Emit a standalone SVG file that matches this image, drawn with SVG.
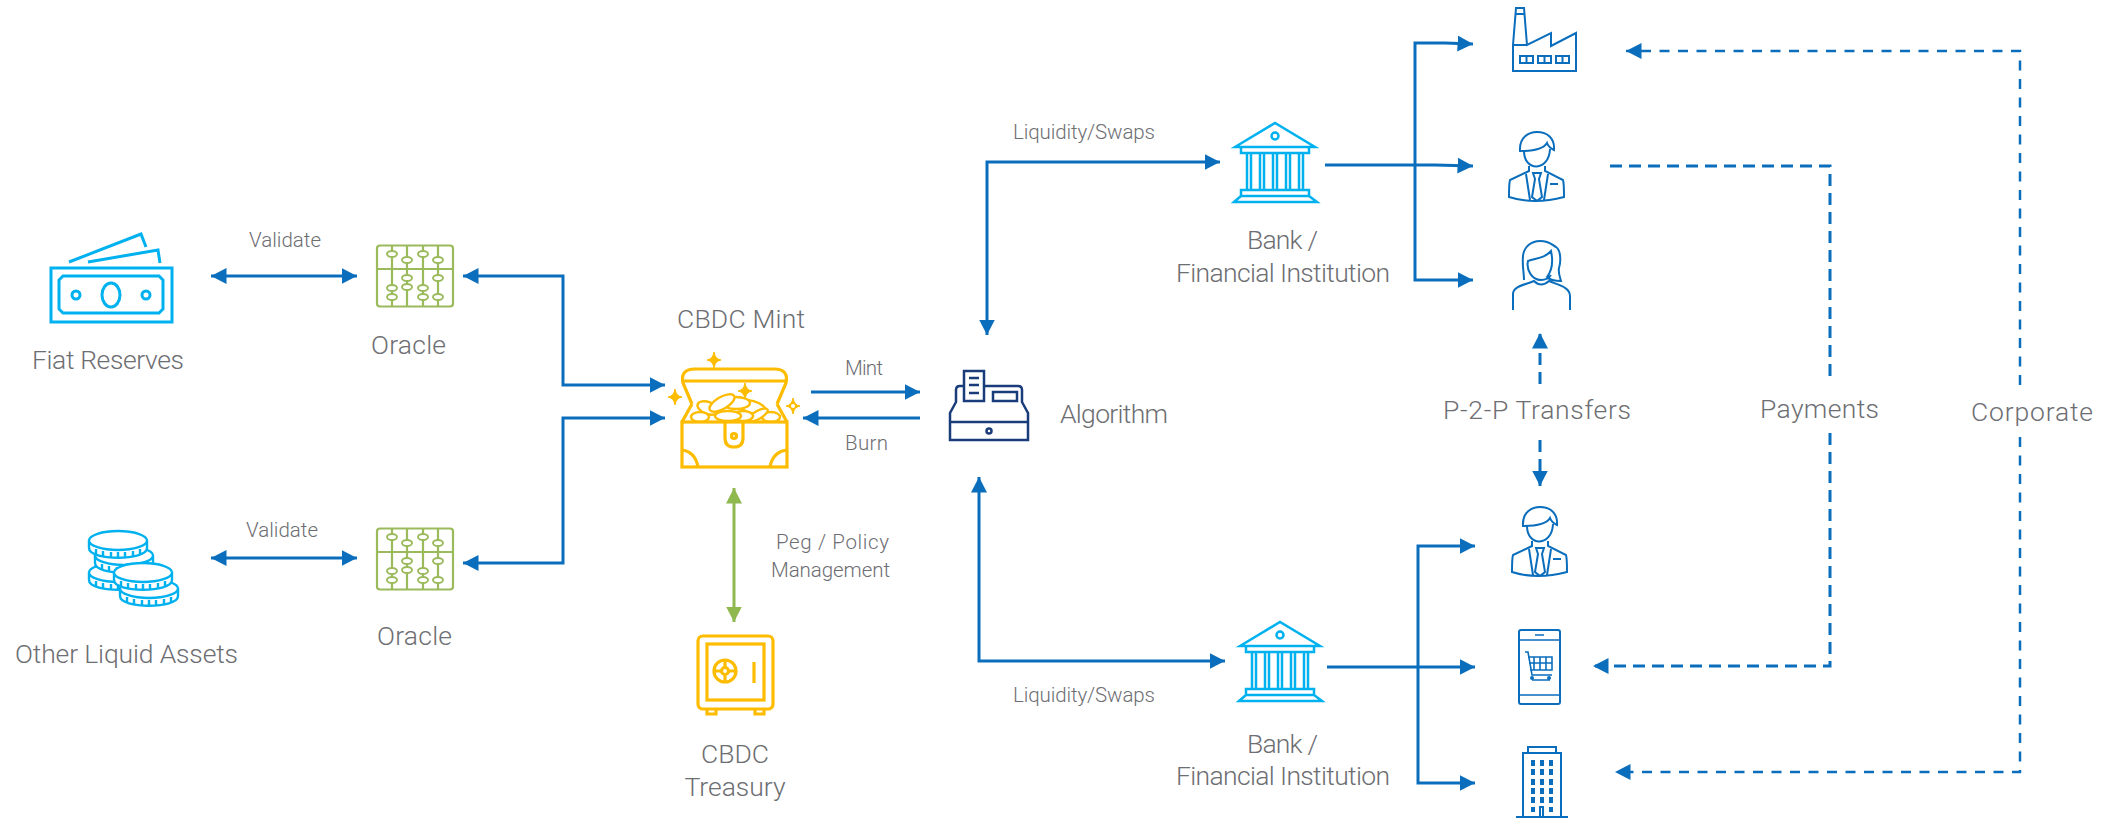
<svg xmlns="http://www.w3.org/2000/svg" width="2113" height="819" viewBox="0 0 2113 819">
<style>
text{font-family:"Roboto","Liberation Sans",sans-serif;font-weight:300;fill:#6d6e72}
.l{font-size:26.500px}.s{font-size:20.500px}
.m{text-anchor:middle}
.c{fill:none;stroke:#0a6ebd;stroke-width:3}
.d{stroke-dasharray:12 7}
.t{stroke-width:2.500;stroke-dasharray:10 8.500}
.gr{fill:none;stroke:#8fb84e;stroke-width:3}
.g{fill:none;stroke:#9aba5c;stroke-width:2.200}
.sky{fill:none;stroke:#00b1f0;stroke-width:3}
.skw{fill:#fff;stroke:#00b1f0;stroke-width:2.400}
.y{fill:none;stroke:#fdbc00;stroke-width:3.200}
.yw{fill:#fff;stroke:#fdbc00;stroke-width:3.200}
.yc{fill:#fff;stroke:#fdbc00;stroke-width:2.400}
.b{fill:none;stroke:#0a6ebd;stroke-width:2}
.n{fill:#fff;stroke:#1b3c7a;stroke-width:2.500}
.bd{fill:#fff;stroke:#9aba5c;stroke-width:1.900}
</style>
<defs>
<marker id="a" markerUnits="userSpaceOnUse" markerWidth="17" markerHeight="17" refX="15.500" refY="8" orient="auto-start-reverse"><path d="M0 0L15.500 8L0 16z" fill="#0a6ebd"/></marker>
<marker id="ag" markerUnits="userSpaceOnUse" markerWidth="17" markerHeight="17" refX="15.500" refY="8" orient="auto-start-reverse"><path d="M0 0L15.500 8L0 16z" fill="#8fb84e"/></marker>
<g id="abacus"><rect class="g" x="1" y="1.500" width="76" height="61" rx="3"/><path class="g" d="M1 25H77M16 2V62M31 2V62M47 2V62M62 2V62"/><ellipse class="bd" cx="16" cy="10" rx="5" ry="3"/><ellipse class="bd" cx="31" cy="16" rx="5" ry="3"/><ellipse class="bd" cx="47" cy="10" rx="5" ry="3"/><ellipse class="bd" cx="62" cy="16" rx="5" ry="3"/><ellipse class="bd" cx="31" cy="34" rx="5" ry="3"/><ellipse class="bd" cx="62" cy="34" rx="5" ry="3"/><ellipse class="bd" cx="16" cy="44" rx="5" ry="3"/><ellipse class="bd" cx="31" cy="43" rx="5" ry="3"/><ellipse class="bd" cx="47" cy="44" rx="5" ry="3"/><ellipse class="bd" cx="16" cy="53" rx="5" ry="3"/><ellipse class="bd" cx="47" cy="53" rx="5" ry="3"/><ellipse class="bd" cx="62" cy="53" rx="5" ry="3"/></g>
<g id="bank"><path class="sky" style="stroke-width:2.500" d="M2 25L42 1L82 25ZM8 25V31H76V25M14 31V68M18 31V68M27 31V68M31 31V68M40 31V68M44 31V68M53 31V68M57 31V68M66 31V68M70 31V68M8 68H76V74H8ZM8 74L1 80H84L76 74"/><circle class="sky" style="stroke-width:2.500" cx="42" cy="14" r="3.500"/></g>
<g id="man"><path class="b" d="M11 20C10 6 20 1 28 1C38 1 46 7 45 19C41 17 39 15 38 12C34 19 22 20 11 20Z"/><path class="b" d="M15 20C15 41 40 41 41 18M20 35V40L1 49Q0 52 0 66Q25 74 55 66Q55 52 54 49L36 40V35M17 43L21 69M39 43L35 69M24 42H32L30 48L33 66L28 70L23 66L26 48ZM41 53H49"/></g>
<g id="coin"><path class="skw" d="M1 10.500V18C1 31 59 31 59 18V10.500"/><ellipse class="skw" cx="30" cy="10.500" rx="29" ry="9.500"/><path class="skw" d="M8 19V25M15 21V27M23 22V28M30 22V28M37 22V28M45 21V27M52 19V25"/></g>
<path id="spark" d="M0 -8Q1 -1 7 0Q1 1 0 8Q-1 1 -7 0Q-1 -1 0 -8Z" fill="#fdbc00" stroke="#fdbc00"/>
</defs>
<g id="connectors">
<path class="c" d="M211 276H357" marker-start="url(#a)" marker-end="url(#a)"/>
<path class="c" d="M211 558H357" marker-start="url(#a)" marker-end="url(#a)"/>
<path class="c" d="M463 276H563V385H665" marker-start="url(#a)" marker-end="url(#a)"/>
<path class="c" d="M463 563H563V418H665" marker-start="url(#a)" marker-end="url(#a)"/>
<path class="c" d="M811 392H920" marker-end="url(#a)"/>
<path class="c" d="M920 418H803" marker-end="url(#a)"/>
<path class="gr" d="M734 488V622" marker-start="url(#ag)" marker-end="url(#ag)"/>
<path class="c" d="M987 335V162H1220" marker-start="url(#a)" marker-end="url(#a)"/>
<path class="c" d="M979 477V661H1225" marker-start="url(#a)" marker-end="url(#a)"/>
<path class="c" d="M1325 165H1435L1473 166" marker-end="url(#a)"/>
<path class="c" d="M1473 44L1445 43H1415V280H1473" marker-start="url(#a)" marker-end="url(#a)"/>
<path class="c" d="M1327 667H1475" marker-end="url(#a)"/>
<path class="c" d="M1475 546H1418V783H1475" marker-start="url(#a)" marker-end="url(#a)"/>
<path class="c d" d="M1540 384V333" marker-end="url(#a)"/>
<path class="c d" d="M1540 440V486" marker-end="url(#a)"/>
<path class="c d" d="M1610 166H1830V383"/>
<path class="c d" d="M1830 433V666H1593" marker-end="url(#a)"/>
<path class="c t" d="M2020 385V51H1626" marker-end="url(#a)"/>
<path class="c t" d="M2020 437V772H1615" marker-end="url(#a)"/>
</g>
<g id="fiat-reserves">
<rect class="sky" x="51" y="268" width="121" height="54"/>
<path class="sky" d="M63 276H159L163 280V309L159 313H63L59 309V280Z"/>
<ellipse class="sky" cx="111" cy="295" rx="9" ry="12"/><circle class="sky" cx="76" cy="295" r="4"/><circle class="sky" cx="146" cy="295" r="4"/>
<path class="sky" d="M69 262L141 234L146 247M88 262L158 250L160 263"/>
<text class="l" x="32" y="369" textLength="152">Fiat Reserves</text>
</g>
<g id="oracle-1"><use href="#abacus" x="376" y="244"/><text class="l" x="371" y="354" textLength="75">Oracle</text></g>
<g id="other-liquid-assets">
<use href="#coin" x="88" y="562"/><use href="#coin" x="94" y="545"/><use href="#coin" x="88" y="530"/><use href="#coin" x="119" y="578"/><use href="#coin" x="113" y="562"/>
<text class="l" x="15" y="663" textLength="223">Other Liquid Assets</text>
</g>
<g id="oracle-2"><use href="#abacus" x="376" y="527"/><text class="l" x="377" y="645" textLength="75">Oracle</text></g>
<g id="cbdc-mint">
<path class="y" d="M692 404L683 383Q680 369 695 369H774Q789 369 786 383L777 404M683 381H786M692 404L682 422M777 404L787 422"/>
<ellipse class="yc" cx="708" cy="408" rx="11" ry="6" transform="rotate(20 708 408)"/>
<ellipse class="yc" cx="752" cy="407" rx="14" ry="6" transform="rotate(15 752 407)"/>
<ellipse class="yc" cx="736" cy="403" rx="14" ry="6"/>
<ellipse class="yc" cx="722" cy="403" rx="14" ry="6" transform="rotate(-30 722 403)"/>
<ellipse class="yc" cx="700" cy="417" rx="9" ry="5"/>
<ellipse class="yc" cx="771" cy="417" rx="9" ry="5"/>
<ellipse class="yc" cx="758" cy="415" rx="11" ry="4" transform="rotate(-30 758 415)"/>
<ellipse class="yc" cx="743" cy="416" rx="10" ry="5"/>
<ellipse class="yc" cx="728" cy="416" rx="13" ry="5"/>
<rect class="yw" x="682" y="422" width="105" height="45"/>
<path class="y" d="M725 422V438Q725 447 734 447Q743 447 743 438V422"/><circle class="y" cx="734" cy="436" r="2.500"/>
<path class="y" d="M681 450Q695 451 698 467M788 450Q773 451 770 467"/>
<use href="#spark" x="714" y="360"/><use href="#spark" x="675" y="397"/><use href="#spark" x="745" y="391"/><use href="#spark" x="793" y="406"/><circle cx="793" cy="406" r="2" fill="#fff"/>
<text class="l" x="677" y="328" textLength="128">CBDC Mint</text>
</g>
<g id="algorithm">
<path class="n" d="M956 402V390Q956 386 960 386H1018Q1022 386 1022 390V402L1028 413V440H950V413ZM950 422H1028"/>
<rect class="n" x="964" y="371" width="20" height="30"/>
<path class="n" d="M969 378H979M969 385H979M969 393H979"/>
<rect class="n" x="993" y="392" width="24" height="9"/>
<circle class="n" cx="989" cy="431" r="2.500"/>
<text class="l" x="1060" y="423" textLength="108">Algorithm</text>
</g>
<g id="cbdc-treasury">
<rect class="y" x="698" y="636" width="75" height="73" rx="5"/><rect class="y" x="707" y="644" width="57" height="56"/>
<circle class="y" cx="725" cy="671" r="11"/><circle class="y" cx="725" cy="671" r="3.500"/><path class="y" d="M754 662V683M725 660V667M725 675V682M714 671H721M729 671H736"/><path class="y" d="M707 709V714H716V709M755 709V714H764V709"/>
<text class="l m" x="735" y="763">CBDC</text><text class="l m" x="735" y="796">Treasury</text>
</g>
<g id="bank-1"><use href="#bank" x="1233" y="122"/><text class="l" x="1247" y="249" textLength="71">Bank /</text><text class="l" x="1176" y="282" textLength="214">Financial Institution</text></g>
<g id="bank-2"><use href="#bank" x="1238" y="621"/><text class="l" x="1247" y="753" textLength="71">Bank /</text><text class="l" x="1176" y="785" textLength="214">Financial Institution</text></g>
<g id="factory"><path class="b" d="M1513 71V45L1516 8H1524L1527 45L1551 33V46L1576 33V71ZM1513 45H1527M1516 14H1524M1520 56H1533V63H1520ZM1526.500 56V63M1538 56H1551V63H1538ZM1544.500 56V63M1556 56H1569V63H1556ZM1562.500 56V63"/></g>
<g id="man-1"><use href="#man" x="1509" y="131"/></g>
<g id="woman"><path class="b" d="M1524 280C1524 272 1522 266 1523 256C1524 246 1532 241 1540 241C1550 241 1552 245 1556 247C1561 250 1561 262 1559 268C1558 273 1560 277 1561 281C1555 281 1550 280 1547 277C1551 272 1554 265 1551 251C1545 258 1537 258 1528 261C1526 270 1532 280 1541 280C1546 280 1549 278 1551 275M1513 310V294C1513 286 1525 285 1534 281Q1541 288 1549 281C1558 285 1570 287 1570 296V310"/></g>
<g id="man-2"><use href="#man" x="1512" y="506"/></g>
<g id="phone"><rect class="b" x="1519" y="630" width="41" height="74" rx="2"/><path class="b" d="M1519 640H1560M1519 695H1560M1535 635H1544M1525 652H1528L1532 675H1552M1528 657H1552V670H1530M1534 657V670M1540 657V670M1546 657V670M1529 663H1552M1532 680H1550" style="stroke-width:1.600"/><circle cx="1532" cy="678" r="2" fill="#0a6ebd"/><circle cx="1549" cy="678" r="2" fill="#0a6ebd"/></g>
<g id="building"><path class="b" d="M1523 817V753H1561V817M1528 753V747H1556V753M1516 817H1568M1540 817V807H1543V817"/><path d="M1531 760h4v6h-4zM1540 760h4v6h-4zM1549 760h4v6h-4zM1531 769h4v6h-4zM1540 769h4v6h-4zM1549 769h4v6h-4zM1531 779h4v6h-4zM1540 779h4v6h-4zM1549 779h4v6h-4zM1531 788h4v6h-4zM1540 788h4v6h-4zM1549 788h4v6h-4zM1531 797h4v6h-4zM1540 797h4v6h-4zM1549 797h4v6h-4zM1531 807h4v5h-4zM1549 807h4v5h-4z" fill="#0a6ebd"/></g>
<g id="labels">
<text class="s" x="249" y="247" textLength="72">Validate</text><text class="s" x="246" y="537" textLength="72">Validate</text>
<text class="s" x="845" y="375" textLength="38">Mint</text><text class="s" x="845" y="450" textLength="43">Burn</text>
<text class="s" x="776" y="549" textLength="113">Peg / Policy</text><text class="s" x="771" y="577" textLength="119">Management</text>
<text class="s" x="1013" y="139" textLength="142">Liquidity/Swaps</text><text class="s" x="1013" y="702" textLength="142">Liquidity/Swaps</text>
<text class="l" x="1443" y="419" textLength="188">P-2-P Transfers</text><text class="l" x="1760" y="418" textLength="119">Payments</text><text class="l" x="1971" y="421" textLength="122">Corporate</text>
</g>
</svg>
